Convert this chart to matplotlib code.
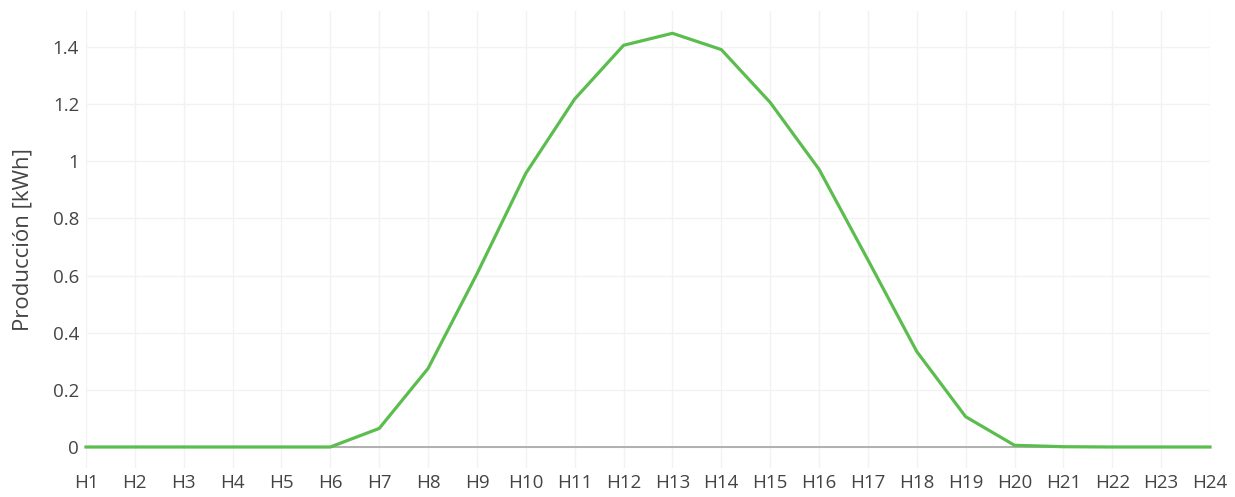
import numpy as np
import matplotlib.pyplot as plt

# hourly production
hours = [f'H{i}' for i in range(1, 25)]
production = [0, 0, 0, 0, 0, 0, 0.065, 0.275, 0.606, 0.958, 1.218, 1.406,
              1.448, 1.391, 1.206, 0.972, 0.655, 0.334, 0.106, 0.006, 0.001,
              0, 0, 0]
y_ticks = [0, 0.2, 0.4, 0.6, 0.8, 1.0, 1.2, 1.4]
y_tick_labels = ['0', '0.2', '0.4', '0.6', '0.8', '1', '1.2', '1.4']

plt.rcParams['font.family'] = ['Open Sans', 'DejaVu Sans']

W, H = 1235, 497
fig = plt.figure(figsize=(W / 100, H / 100), dpi=100)
ax = fig.add_axes([86 / W, (H - 468) / H, (1210 - 86) / W, (468 - 11) / H])

x = np.arange(len(hours))
ax.axhline(0, color='#aaaaaa', lw=1.3, zorder=1)
ax.plot(x, production, color='#5cbd4f', lw=2.3, zorder=3, clip_on=False)

ax.set_xlim(0, len(hours) - 1)
ax.set_ylim(-0.0735, 1.526)
ax.set_xticks(x)
ax.set_xticklabels(hours)
ax.set_yticks(y_ticks)
ax.set_yticklabels(y_tick_labels)

ax.grid(True, color='#f2f2f2', lw=1, zorder=0)
ax.set_axisbelow(True)
for s in ax.spines.values():
    s.set_visible(False)
ax.tick_params(length=0, labelsize=13.5, labelcolor='#444444')
ax.tick_params(axis='x', pad=4)
ax.tick_params(axis='y', pad=5)

ax.set_ylabel('Producción [kWh]', fontsize=16, color='#444444', labelpad=14)

fig.savefig('out.png', dpi=100)
